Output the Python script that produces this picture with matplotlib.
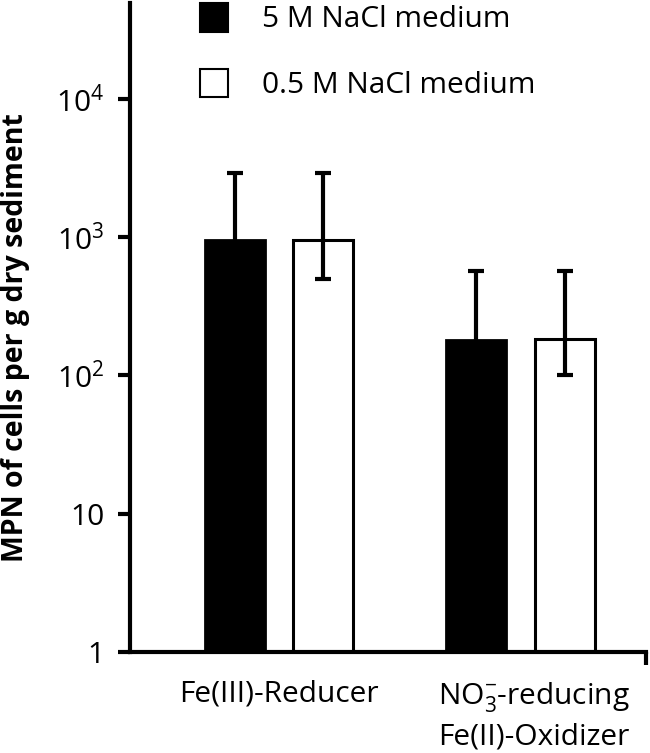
import numpy as np
import matplotlib
matplotlib.use("Agg")
import matplotlib.pyplot as plt
from matplotlib.ticker import FixedLocator, FixedFormatter, NullFormatter
from matplotlib.transforms import ScaledTranslation
from matplotlib.patches import Patch

plt.rcParams['font.family'] = ['Open Sans', 'DejaVu Sans']
plt.rcParams['mathtext.default'] = 'regular'

categories = ["Fe(III)-Reducer", "NO$_3^{-}$-reducing\nFe(II)-Oxidizer"]
series_names = ["5 M NaCl medium", "0.5 M NaCl medium"]
high_salt = [950, 180]
low_salt = [950, 183]
high_upper = [2900, 570]
low_upper = [2900, 570]
high_lower = [500, 100]
low_lower = [500, 100]
ytick_vals = [1, 10, 100, 1000, 10000]
ytick_labels = ["1", "10", r"$\mathdefault{10^{2}}$", r"$\mathdefault{10^{3}}$", r"$\mathdefault{10^{4}}$"]

fig = plt.figure(figsize=(6.5, 7.53), dpi=100)
ax = fig.add_axes([130/650, 1-652/753, (646-130)/650, (652-3)/753])

x = np.arange(len(categories))
width = 0.248
off = 0.183

h = np.array(high_salt); l = np.array(low_salt)
herr = [h - np.array(high_lower), np.array(high_upper) - h]
lerr = [l - np.array(low_lower), np.array(low_upper) - l]

ax.bar(x - off, h, width, color='black', edgecolor='black', linewidth=2, zorder=2)
ax.bar(x + off, l, width, color='white', edgecolor='black', linewidth=2.2, zorder=2)
ekw = dict(fmt='none', ecolor='black', elinewidth=3, capsize=5.5, capthick=3, zorder=3)
ax.errorbar(x - off, h, yerr=herr, **ekw)
ax.errorbar(x + off, l, yerr=lerr, **ekw)

ax.set_yscale('log')
ax.set_ylim(1, 10**4.693)
ax.set_xlim(-0.615, 1.518)
ax.yaxis.set_major_locator(FixedLocator(ytick_vals))
ax.yaxis.set_major_formatter(FixedFormatter(ytick_labels))
ax.yaxis.set_minor_locator(FixedLocator([]))
ax.tick_params(axis='y', which='major', direction='out', length=8.5, width=3, labelsize=21.5, pad=10)

ax.set_xticks(x)
ax.set_xticklabels(categories, fontsize=21.5, linespacing=1.4)
ax.tick_params(axis='x', which='major', length=0, pad=20)
ax.xaxis.set_minor_locator(FixedLocator([1.518]))
ax.xaxis.set_minor_formatter(NullFormatter())
ax.tick_params(axis='x', which='minor', direction='out', length=9, width=3)

lbls = ax.get_xticklabels()
lbls[1].set_transform(lbls[1].get_transform() + ScaledTranslation(13/100, 0, fig.dpi_scale_trans))

for s in ['top', 'right']:
    ax.spines[s].set_visible(False)
for s in ['left', 'bottom']:
    ax.spines[s].set_linewidth(3)

ax.set_ylabel("MPN of cells per g dry sediment", fontsize=20.5, fontweight='bold')
ax.yaxis.set_label_coords(-100/516, (652-338)/649)

handles = [Patch(facecolor='black', edgecolor='black', linewidth=1.5),
           Patch(facecolor='white', edgecolor='black', linewidth=1.5)]
leg = ax.legend(handles, series_names, loc='upper left', bbox_to_anchor=(70/516, 1.0),
                frameon=False, fontsize=21.5, handlelength=0.95, handleheight=1.1,
                handletextpad=1.14, labelspacing=1.15, borderaxespad=0, borderpad=0)

fig.savefig('out.png', dpi=100)
